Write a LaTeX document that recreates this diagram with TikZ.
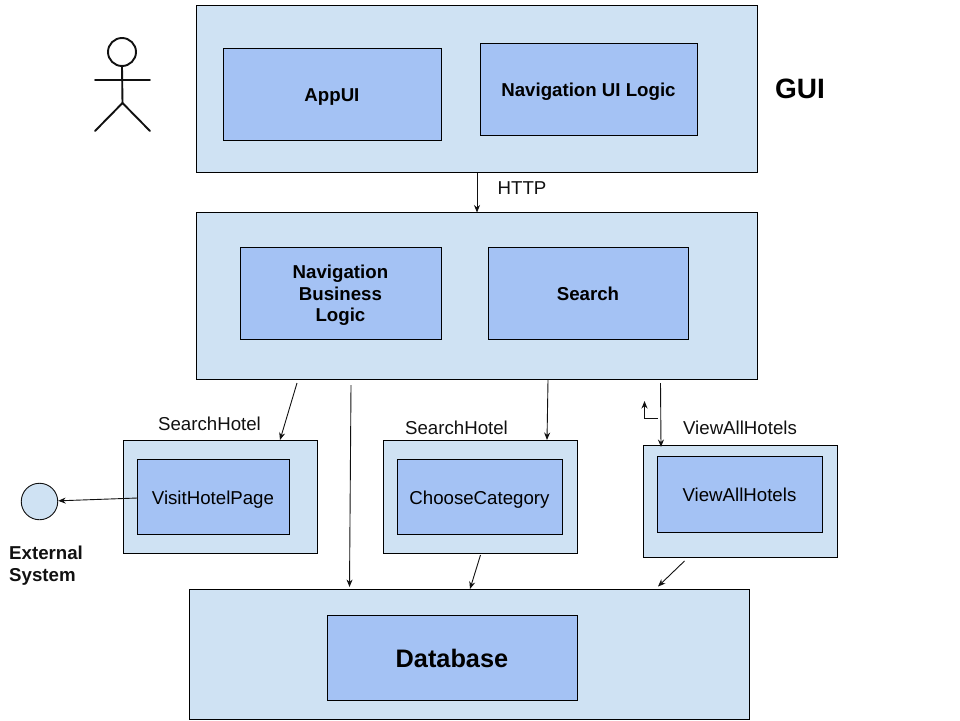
\documentclass[tikz,border=0pt]{standalone}
\usepackage{fontspec}
\setmainfont{Liberation Sans}
\usetikzlibrary{arrows.meta}
\definecolor{outerfill}{HTML}{CFE2F3}
\definecolor{innerfill}{HTML}{A4C2F4}
\definecolor{ink}{HTML}{111111}
\tikzset{
  x=1pt,y=-1pt,
  outerbox/.style={draw=black,line width=0.9pt,fill=outerfill,inner sep=0pt},
  innerbox/.style={draw=black,line width=0.9pt,fill=innerfill,inner sep=0pt,text=black,align=center,text height=15.4pt,text depth=0pt,font=\fontsize{18.67}{21.5}\selectfont},
  boldbox/.style={innerbox,font=\fontsize{18.67}{21.5}\selectfont\bfseries},
  plain/.style={inner sep=0pt,text=ink,font=\fontsize{18.67}{21.5}\selectfont},
  conn/.style={draw=ink,line width=0.9pt,-{Stealth[length=7.5pt,width=6pt]}},
  figure/.style={draw=ink,line width=1.9pt,line cap=round},
}
\begin{document}
\begin{tikzpicture}
\useasboundingbox (0,0) rectangle (960,720);
% GUI tier
\node[outerbox,minimum width=561pt,minimum height=167pt,anchor=north west] (gui) at (195.5,4.5) {};
\node[boldbox,minimum width=218pt,minimum height=92pt,anchor=north west] (appui) at (222.5,47.5) {AppUI};
\node[boldbox,minimum width=217pt,minimum height=92pt,anchor=north west] (navui) at (479.5,42.5) {Navigation UI Logic};
\node[inner sep=0pt,font=\fontsize{28}{32}\selectfont\bfseries,text=black,anchor=center] (guilabel) at (800,89) {GUI};
% business tier
\node[outerbox,minimum width=561pt,minimum height=167pt,anchor=north west] (biz) at (195.5,211.5) {};
\node[boldbox,text height=,text depth=,minimum width=201pt,minimum height=92pt,anchor=north west] (navbiz) at (239.5,246.5) {\rule{0pt}{19pt}Navigation\\Business\\Logic};
\node[boldbox,minimum width=200pt,minimum height=92pt,anchor=north west] (search) at (487.5,246.5) {Search};
\node[plain,anchor=center] (http) at (522,188) {HTTP};
% services
\node[outerbox,minimum width=194pt,minimum height=113pt,anchor=north west] (s1) at (122.5,439.5) {};
\node[innerbox,minimum width=152pt,minimum height=75pt,anchor=north west] (visit) at (136.5,458.5) {VisitHotelPage};
\node[plain,anchor=center] (s1l) at (209.5,424) {SearchHotel};
\node[outerbox,minimum width=194pt,minimum height=113pt,anchor=north west] (s2) at (382.5,439.5) {};
\node[innerbox,minimum width=165pt,minimum height=75pt,anchor=north west] (choose) at (396.5,458.5) {ChooseCategory};
\node[plain,anchor=center] (s2l) at (456.5,428) {SearchHotel};
\node[outerbox,minimum width=194pt,minimum height=112pt,anchor=north west] (s3) at (642.5,444.5) {};
\node[innerbox,minimum width=165pt,minimum height=76pt,anchor=north west] (viewall) at (656.5,455.5) {ViewAllHotels};
\node[plain,anchor=center] (s3l) at (740,428) {ViewAllHotels};
% database
\node[outerbox,minimum width=560pt,minimum height=130pt,anchor=north west] (db) at (188.5,588.5) {};
\node[innerbox,text height=20pt,minimum width=250pt,minimum height=85pt,anchor=north west,font=\fontsize{25.3}{30}\selectfont\bfseries] (dbin) at (326.5,614.5) {Database};
% external
\node[draw=ink,line width=0.9pt,fill=outerfill,circle,minimum size=36.5pt,inner sep=0pt] (ext) at (39.5,501.5) {};
\node[inner sep=0pt,align=left,anchor=north west,text=ink,font=\fontsize{18.67}{22}\selectfont\bfseries] (extl) at (9,546) {External\\System};
% stick figure
\node[draw=ink,line width=1.9pt,circle,minimum size=28pt,inner sep=0pt] (head) at (122,52) {};
\coordinate (hip) at (122.5,103);
\coordinate (armL) at (95,80);
\coordinate (armR) at (150,80);
\coordinate (legL) at (95,131);
\coordinate (legR) at (150,131);
\draw[figure] (head.south) -- (hip);
\draw[figure] (armL) -- (armR);
\draw[figure] (legL) -- (hip) -- (legR);
% connectors
\coordinate (httpS) at (477,172.5);
\coordinate (httpE) at (477,212.5);
\draw[conn] (httpS) -- (httpE);
\coordinate (a1) at (297,383);
\coordinate (a1e) at (280,440);
\draw[conn] (a1) -- (a1e);
\coordinate (a2) at (351,385);
\coordinate (a2e) at (349.5,587);
\draw[conn] (a2) -- (a2e);
\coordinate (a3) at (548,380);
\coordinate (a3e) at (547,440);
\draw[conn] (a3) -- (a3e);
\coordinate (a4) at (660.5,383);
\coordinate (a4e) at (661,447);
\draw[conn] (a4) -- (a4e);
\coordinate (b1) at (480.5,555);
\coordinate (b1e) at (470,589);
\draw[conn] (b1) -- (b1e);
\coordinate (b2) at (684.5,561);
\coordinate (b2e) at (658,586.5);
\draw[conn] (b2) -- (b2e);
\coordinate (visitW) at (137.5,498);
\draw[conn] (visitW) -- (ext);
\coordinate (e1) at (657.5,418);
\coordinate (e2) at (644.5,418);
\coordinate (e3) at (644.5,401);
\draw[conn] (e1) -- (e2) -- (e3);
\end{tikzpicture}
\end{document}
